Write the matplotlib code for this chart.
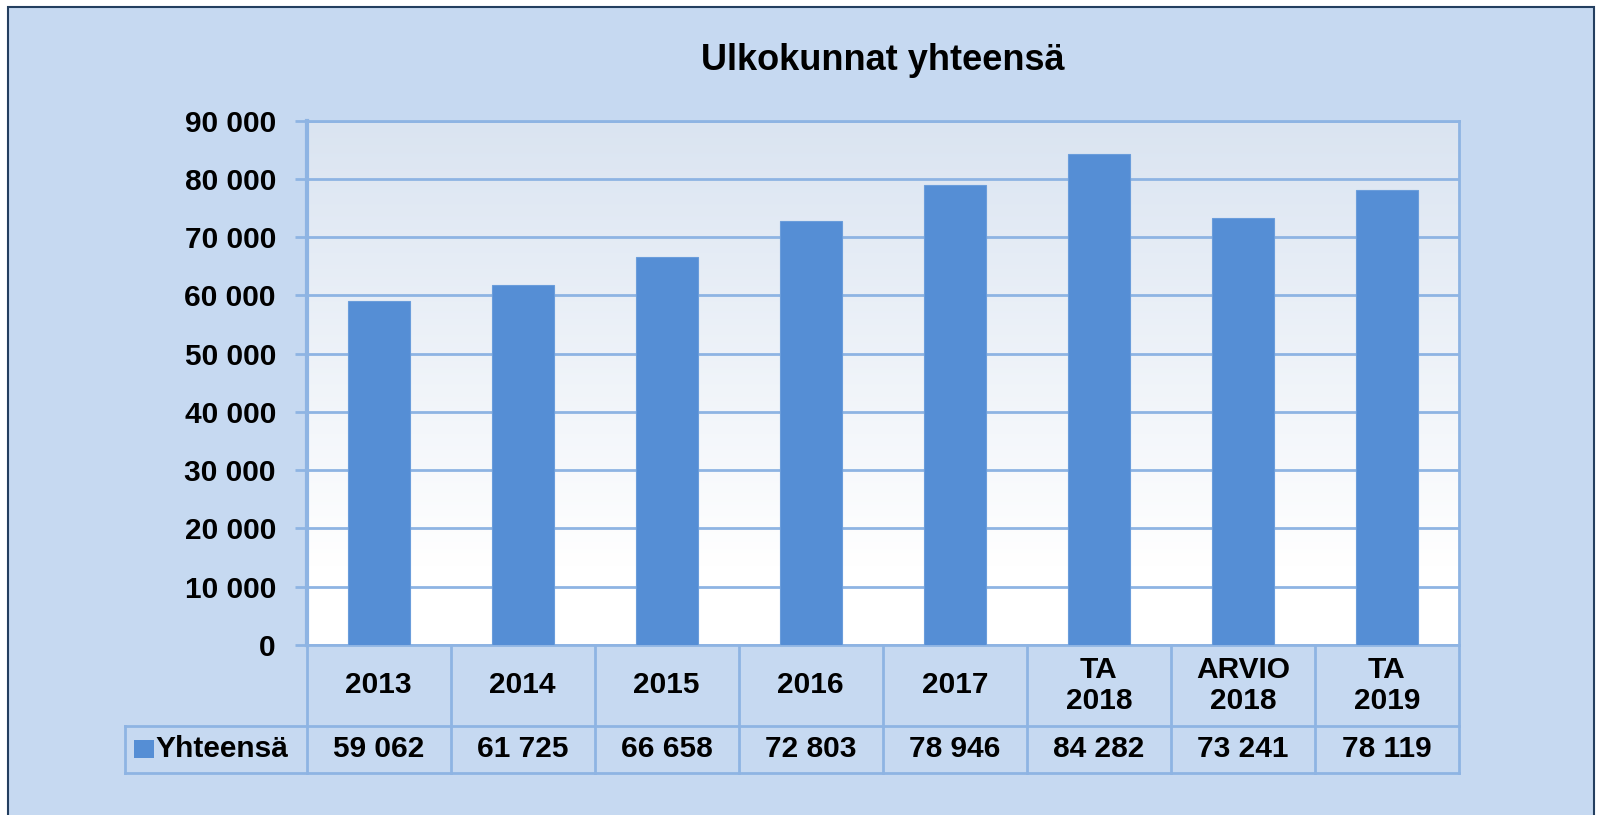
import numpy as np
import matplotlib
matplotlib.use("Agg")
import matplotlib.pyplot as plt
from matplotlib.patches import Rectangle
from matplotlib.colors import to_rgb

# data
categories = ["2013", "2014", "2015", "2016", "2017", "TA\n2018", "ARVIO\n2018", "TA\n2019"]
values = [59062, 61725, 66658, 72803, 78946, 84282, 73241, 78119]
series_name = "Yhteensä"
title = "Ulkokunnat yhteensä"
yticks = list(range(0, 90001, 10000))

plt.rcParams['font.family'] = ['Liberation Sans', 'DejaVu Sans']
plt.rcParams['font.weight'] = 'bold'

W, H = 1597, 815
fig = plt.figure(figsize=(W / 100, H / 100), dpi=100, facecolor="white")

bg = "#c6d9f1"
grid_c = "#8eb4e3"
bar_c = "#558ed5"
fs = 21.5

# outer chart frame (bottom edge runs off the picture)
fig.patches.append(Rectangle((8 / W, -0.05), (1594 - 8) / W, 1.05 - 7 / H, transform=fig.transFigure,
                             facecolor=bg, edgecolor="#243f60", linewidth=1.5, zorder=-10))

# plot area in pixels
pl, pr, pt, pb = 306.5, 1459, 120.5, 645
ax = fig.add_axes([pl / W, 1 - pb / H, (pr - pl) / W, (pb - pt) / H])
ax.set_facecolor("none")

# gradient background of plot area
top_rgb = np.array(to_rgb("#dae4f1"))
t = np.linspace(1, 0, 256)
frac = np.clip((t - 0.15) / 0.85, 0, 1)[:, None]
grad = 1 - (1 - top_rgb)[None, :] * frac
ax.imshow(grad[:, None, :], extent=[0, 1, 0, 1], transform=ax.transAxes,
          aspect="auto", zorder=0)

x = np.arange(len(categories))
ax.bar(x, values, width=0.43, color=bar_c, edgecolor="#6a9ddb", linewidth=0.8, zorder=3)

ax.set_xlim(-0.5, len(categories) - 0.5)
ax.set_ylim(0, 90000)
ax.set_yticks(yticks)
ax.set_yticklabels([f"{v:,}".replace(",", " ") for v in yticks], fontsize=fs, fontweight="bold")
ax.yaxis.grid(True, color=grid_c, linewidth=2, zorder=1)
ax.set_axisbelow(True)
ax.tick_params(axis="y", length=9, width=2, color=grid_c, pad=13)
ax.set_xticks([])
for s in ax.spines.values():
    s.set_color(grid_c)
    s.set_linewidth(2)
ax.spines["left"].set_linewidth(3)

ax.set_title(title, fontsize=26, fontweight="bold", pad=36)

# data table below
tr = ax.get_xaxis_transform()
row1 = (pb - 725.7) / (pb - pt)
row2 = (pb - 773) / (pb - pt)
leg_left = -0.5 + (125 - pl) / ((pr - pl) / len(categories))
lk = dict(color=grid_c, linewidth=2, transform=tr, clip_on=False)
for i in range(len(categories) + 1):
    ax.plot([i - 0.5, i - 0.5], [0, row2], **lk)
ax.plot([leg_left, len(categories) - 0.5], [row1, row1], **lk)
ax.plot([leg_left, len(categories) - 0.5], [row2, row2], **lk)
ax.plot([leg_left, leg_left], [row1, row2], **lk)

for i, (c, v) in enumerate(zip(categories, values)):
    ax.text(i, row1 / 2, c, transform=tr, ha="center", va="center", fontsize=fs,
            fontweight="bold", linespacing=1.15)
    ax.text(i, (row1 + row2) / 2, f"{v:,}".replace(",", " "), transform=tr, ha="center",
            va="center", fontsize=fs, fontweight="bold")

# legend key in the table
fig.patches.append(Rectangle((134 / W, 1 - 758 / H), 20 / W, 18 / H, transform=fig.transFigure,
                             facecolor=bar_c, edgecolor="none"))
fig.text(155 / W, 1 - 749 / H, series_name, ha="left", va="center", fontsize=fs, fontweight="bold")

fig.savefig("out.png", dpi=100, facecolor=fig.get_facecolor())
